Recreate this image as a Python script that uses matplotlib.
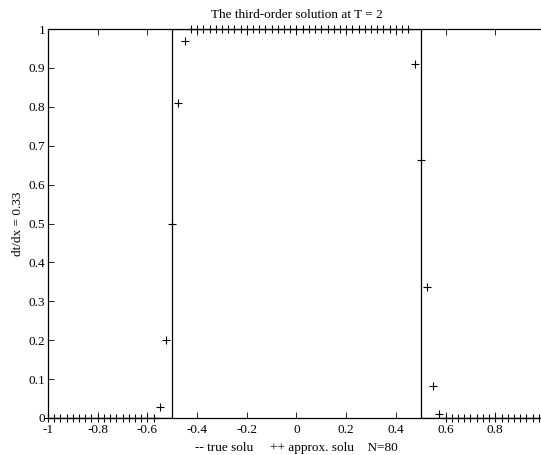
import numpy as np
import matplotlib
matplotlib.use("Agg")
import matplotlib.pyplot as plt

plt.rcParams["font.family"] = ["Liberation Serif", "DejaVu Serif"]
plt.rcParams["font.size"] = 9.5

# exact solution (square wave) at T = 2
true_x = [-1.0, -0.5, -0.5, 0.5, 0.5, 1.0]
true_y = [0.0, 0.0, 1.0, 1.0, 0.0, 0.0]

# approximate solution, N = 80 grid points, dx = 0.025
N = 80
approx_x = [-1 + 0.025 * i for i in range(N)]
left_zeros = [0.0] * 18                      # -1 ... -0.575
left_jump = [0.028, 0.2, 0.5, 0.81, 0.97]     # -0.55 ... -0.45
plateau = [1.0] * 36                          # -0.425 ... 0.45
right_jump = [0.91, 0.663, 0.337, 0.083, 0.01]  # 0.475 ... 0.575
right_zeros = [0.0] * 16                      # 0.6 ... 0.975
approx_y = left_zeros + left_jump + plateau + right_jump + right_zeros

fig = plt.figure(figsize=(5.41, 4.55), dpi=100)
ax = fig.add_axes([48 / 541, 1 - 418 / 455, 497 / 541, 389 / 455])

ax.plot(true_x, true_y, color="black", linewidth=0.9)
ax.plot(approx_x, approx_y, linestyle="none", marker="+", color="black",
        markersize=6, markeredgewidth=0.8, clip_on=False)

ax.set_xlim(-1, 1)
ax.set_ylim(0, 1)
ax.set_xticks(np.arange(-1, 0.81, 0.2))
ax.set_xticklabels(["-1", "-0.8", "-0.6", "-0.4", "-0.2", "0", "0.2", "0.4", "0.6", "0.8"])
ax.set_yticks(np.arange(0, 1.01, 0.1))
ax.set_yticklabels(["0", "0.1", "0.2", "0.3", "0.4", "0.5", "0.6", "0.7", "0.8", "0.9", "1"])
ax.tick_params(direction="in", length=4, width=0.6, top=True, right=False)
ax.tick_params(axis="x", pad=4)
ax.tick_params(axis="y", pad=2)
ax.spines["right"].set_visible(False)
for s in ["left", "bottom", "top"]:
    ax.spines[s].set_linewidth(0.9)

ax.set_title("The third-order solution at T = 2", fontsize=9.5, pad=8)
ax.set_xlabel("-- true solu     ++ approx. solu    N=80", labelpad=5)
ax.set_ylabel("dt/dx = 0.33", labelpad=3)

fig.savefig("out.png", dpi=100)
